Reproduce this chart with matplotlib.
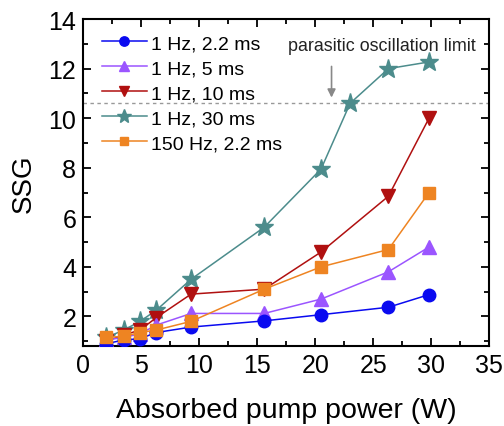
import matplotlib
matplotlib.use("Agg")
import matplotlib.pyplot as plt
from matplotlib.ticker import MultipleLocator

plt.rcParams['font.family'] = ['Liberation Sans', 'DejaVu Sans']

power = [2.0, 3.5, 4.9, 6.3, 9.3, 15.6, 20.5, 26.3, 29.8]
power_30 = [2.0, 3.5, 4.9, 6.3, 9.3, 15.6, 20.5, 23.0, 26.3, 29.8]

ssg_1hz_2p2 = [0.9, 1.05, 1.1, 1.35, 1.57, 1.82, 2.07, 2.37, 2.88]
ssg_1hz_5 = [1.05, 1.15, 1.3, 1.65, 2.12, 2.12, 2.7, 3.8, 4.8]
ssg_1hz_10 = [1.0, 1.25, 1.45, 1.95, 2.9, 3.1, 4.6, 6.85, 10.0]
ssg_1hz_30 = [1.15, 1.45, 1.8, 2.25, 3.5, 5.6, 7.95, 10.6, 12.0, 12.27]
ssg_150hz_2p2 = [1.15, 1.2, 1.35, 1.45, 1.8, 3.1, 4.0, 4.7, 7.0]

labels = ["1 Hz, 2.2 ms", "1 Hz, 5 ms", "1 Hz, 10 ms", "1 Hz, 30 ms", "150 Hz, 2.2 ms"]
limit = 10.6

fig = plt.figure(figsize=(5.04, 4.27), dpi=100)
ax = fig.add_axes([0.165, 0.187, 0.806, 0.766])

ax.axhline(limit, color='#999999', ls=(0, (2.5, 2.5)), lw=1.0, zorder=1)

ax.plot(power, ssg_1hz_2p2, color='#0A0AF0', marker='o', ms=9, lw=1.1, label=labels[0], zorder=5)
ax.plot(power, ssg_1hz_5, color='#9B55FF', marker='^', ms=10, lw=1.1, label=labels[1], zorder=4)
ax.plot(power, ssg_1hz_10, color='#B01010', marker='v', ms=10, lw=1.1, label=labels[2], zorder=3)
ax.plot(power_30, ssg_1hz_30, color='#4C8C8C', marker='*', ms=14, lw=1.1, label=labels[3], zorder=2)
ax.plot(power, ssg_150hz_2p2, color='#EE8422', marker='s', ms=8, lw=1.1, label=labels[4], zorder=6)

ax.annotate('', xy=(21.4, 10.72), xytext=(21.4, 12.2),
            arrowprops=dict(arrowstyle='-|>', color='#888888', lw=1.2, mutation_scale=12))
ax.text(25.7, 12.92, 'parasitic oscillation limit', ha='center', va='center', fontsize=12.9, color='#222222')

ax.set_xlim(0, 35)
ax.set_ylim(0.8, 14)
ax.xaxis.set_major_locator(MultipleLocator(5))
ax.xaxis.set_minor_locator(MultipleLocator(2.5))
ax.yaxis.set_major_locator(MultipleLocator(2))
ax.yaxis.set_minor_locator(MultipleLocator(1))
ax.tick_params(which='both', direction='in', top=True, right=True, width=1.3)
ax.tick_params(which='major', length=6, labelsize=18, pad=5)
ax.tick_params(which='minor', length=3.5)
for s in ax.spines.values():
    s.set_linewidth(1.5)

ax.set_xlabel('Absorbed pump power (W)', fontsize=20.5, labelpad=14)
ax.set_ylabel('SSG', fontsize=20, labelpad=8)

ax.legend(loc='upper left', bbox_to_anchor=(0.046, 0.953), frameon=False, fontsize=14,
          handlelength=2.3, handletextpad=0.25, labelspacing=0.38, borderaxespad=0,
          borderpad=0, markerscale=0.75)

fig.savefig('out.png', dpi=100)
